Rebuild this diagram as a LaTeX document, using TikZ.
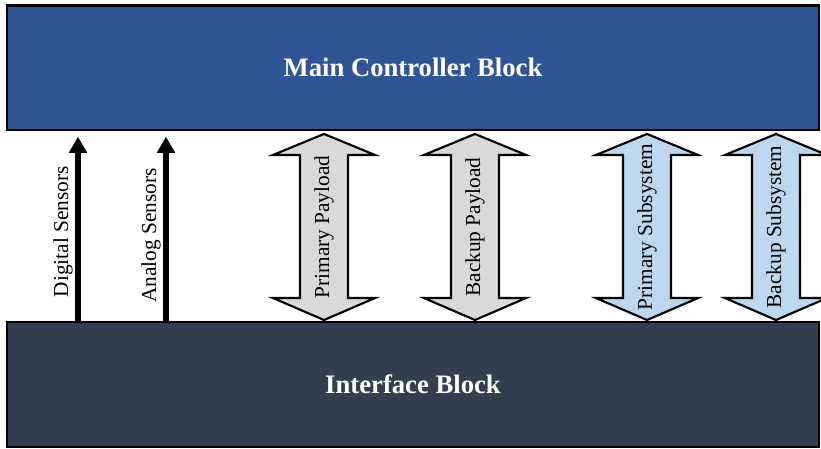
\documentclass[tikz,border=0pt]{standalone}
\usepackage{fontspec}
\setmainfont{Liberation Serif}
\usepackage{xcolor}
\definecolor{mainblue}{HTML}{2F5597}
\definecolor{ifacedark}{HTML}{333F50}
\definecolor{payloadgray}{HTML}{D9D9D9}
\definecolor{subsysblue}{HTML}{BDD7EE}
\usetikzlibrary{arrows.meta}
\usetikzlibrary{calc}

\tikzset{
  block/.style={draw=black, line width=2.2pt, minimum width=609pt, inner sep=0pt,
    text=white, font=\fontsize{20}{24}\selectfont\bfseries},
  sensor/.style={line width=4pt, -{Triangle[length=12pt,width=13pt]}, shorten >=4pt},
  sensorlabel/.style={font=\fontsize{16}{19}\selectfont, inner sep=2pt},
  fatarrow/.style={draw=black, line width=1.6pt, line join=miter},
  arrowlabel/.style={font=\fontsize{16}{19}\selectfont, rotate=90, inner sep=0pt}
}

% fat double arrow between the two blocks, at the x of coordinate #1
\newcommand{\busarrow}[3]{%
  \path (main.south -| #1) ++(0,2.5) coordinate (top)
        (iface.north -| #1) ++(0,-0.5) coordinate (bot);
  \draw[fatarrow, fill=#2] (top) -- ++(51,21) -- ++(-27,0) -- ($(bot)+(24,-22)$)
    -- ++(27,0) -- (bot) -- ++(-51,-22) -- ++(27,0) -- ($(top)+(-24,21)$)
    -- ++(-27,0) -- cycle;
  \path (top) -- (bot) node[midway, arrowlabel] {#3};
}

\begin{document}
\begin{tikzpicture}[x=0.75pt, y=-0.75pt]

\useasboundingbox (0,0) rectangle (821,449);
\clip (0,0) rectangle (821,449);

% the two blocks
\node[block, fill=mainblue, minimum height=93.4pt] (main) at (413,67.75) {Main Controller Block};
\node[block, fill=ifacedark, minimum height=93.75pt] (iface) at (413,384.5) {Interface Block};

% x positions of the links
\coordinate (dsx) at (78,0);
\coordinate (asx) at (166,0);
\coordinate (ppx) at (324,0);
\coordinate (bpx) at (475,0);
\coordinate (psx) at (647,0);
\coordinate (bsx) at (776,0);

% sensor inputs
\draw[sensor] (iface.north -| dsx) -- (main.south -| dsx)
  node[pos=0.47, sloped, above, sensorlabel] {Digital Sensors};
\draw[sensor] (iface.north -| asx) -- (main.south -| asx)
  node[pos=0.45, sloped, above, sensorlabel] {Analog Sensors};

% payload and subsystem links
\busarrow{ppx}{payloadgray}{Primary Payload}
\busarrow{bpx}{payloadgray}{Backup Payload}
\busarrow{psx}{subsysblue}{Primary Subsystem}
\busarrow{bsx}{subsysblue}{Backup Subsystem}

\end{tikzpicture}
\end{document}
